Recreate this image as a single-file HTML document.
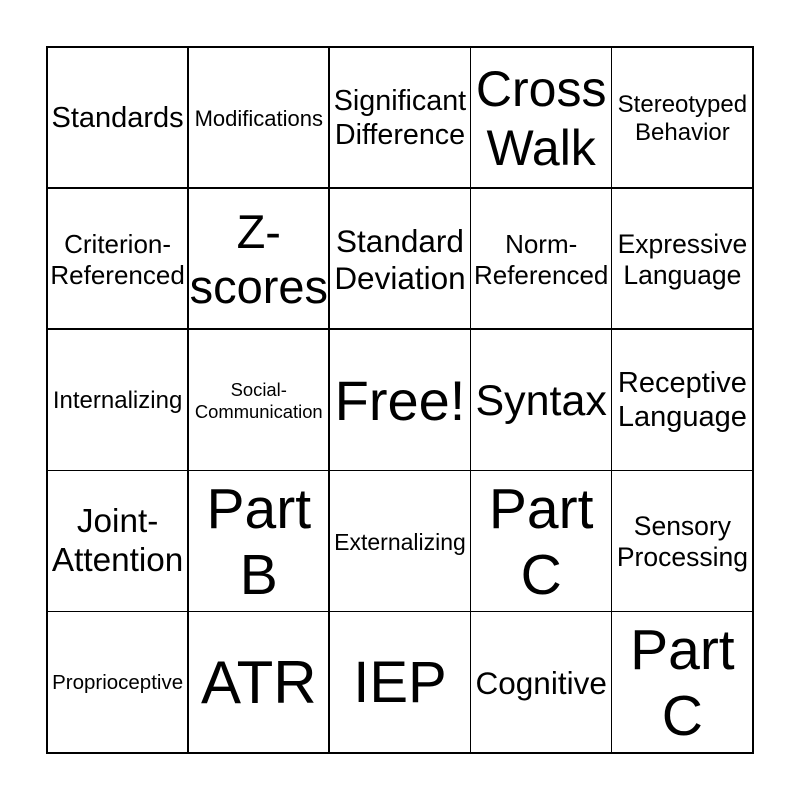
<!DOCTYPE html>
<html><head><style>
html,body{margin:0;padding:0;background:#fff;width:800px;height:800px;overflow:hidden}
.c{position:absolute;width:141.2px;height:141.2px;display:flex;align-items:center;justify-content:center;text-align:center;font-family:"Liberation Sans",Arial,sans-serif;line-height:1.17;white-space:nowrap;color:#000;padding-top:2px;box-sizing:border-box}
.l{position:absolute;background:#000}
</style></head><body>
<div id="g"></div>
<script>
var cells=[
[["Standards",29],["Modifications",22],["Significant<br>Difference",28.7],["Cross<br>Walk",50],["Stereotyped<br>Behavior",24]],
[["Criterion-<br>Referenced",26],["Z-<br>scores",47],["Standard<br>Deviation",31.5],["Norm-<br>Referenced",26],["Expressive<br>Language",26.5]],
[["Internalizing",24],["Social-<br>Communication",18.4],["Free!",56],["Syntax",43],["Receptive<br>Language",29]],
[["Joint-<br>Attention",33.3],["Part<br>B",57],["Externalizing",23],["Part<br>C",57],["Sensory<br>Processing",26.5]],
[["Proprioceptive",20.5],["ATR",60],["IEP",58],["Cognitive",31.5],["Part<br>C",57]]];
var h="",x0=47,s=141.2;
for(var r=0;r<5;r++)for(var c=0;c<5;c++){var d=cells[r][c];
h+='<div class="c" style="left:'+(x0+c*s)+'px;top:'+(x0+r*s)+'px;font-size:'+d[1]+'px">'+d[0]+'</div>';}
for(var i=0;i<6;i++){var p=x0+i*s-1;
h+='<div class="l" style="left:'+p+'px;top:46px;width:1.5px;height:708px"></div>';
h+='<div class="l" style="top:'+p+'px;left:46px;height:1.5px;width:708px"></div>';}
document.getElementById("g").innerHTML=h;
</script>
</body></html>
